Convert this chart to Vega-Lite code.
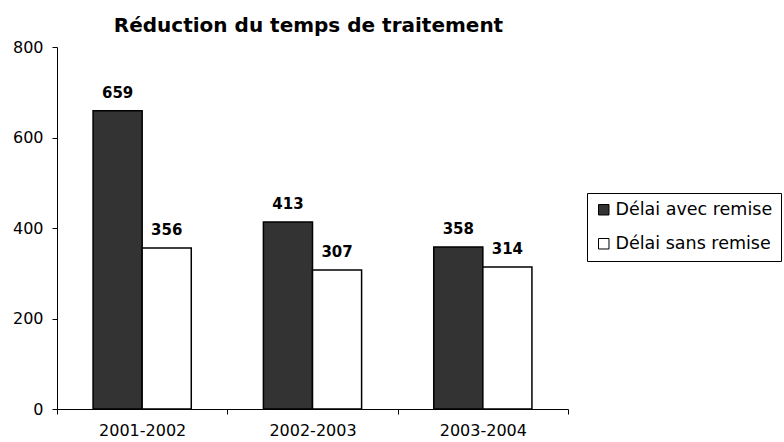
{
  "$schema": "https://vega.github.io/schema/vega-lite/v6.json",
  "width": 511,
  "height": 362,
  "autosize": {"type": "none"},
  "padding": {"left": 57, "top": 47, "right": 216, "bottom": 33},
  "background": "white",
  "config": {
    "view": {"stroke": null},
    "font": "DejaVu Sans"
  },
  "title": {
    "text": "Réduction du temps de traitement",
    "fontSize": 20,
    "fontWeight": "bold",
    "font": "DejaVu Sans",
    "color": "black",
    "anchor": "middle",
    "dx": -4,
    "offset": 3
  },
  "data": {
    "values": [
      {"periode": "2001-2002", "serie": "Délai avec remise", "valeur": 659},
      {"periode": "2001-2002", "serie": "Délai sans remise", "valeur": 356},
      {"periode": "2002-2003", "serie": "Délai avec remise", "valeur": 413},
      {"periode": "2002-2003", "serie": "Délai sans remise", "valeur": 307},
      {"periode": "2003-2004", "serie": "Délai avec remise", "valeur": 358},
      {"periode": "2003-2004", "serie": "Délai sans remise", "valeur": 314}
    ]
  },
  "encoding": {
    "x": {
      "field": "periode",
      "type": "nominal",
      "title": null,
      "scale": {"paddingInner": 0, "paddingOuter": 0},
      "axis": {
        "labelAngle": 0,
        "labelFont": "DejaVu Sans",
        "labelFontSize": 16,
        "labelColor": "black",
        "labelPadding": 8,
        "domainColor": "black",
        "tickColor": "black",
        "tickSize": 5,
        "tickBand": "extent"
      }
    },
    "y": {
      "field": "valeur",
      "type": "quantitative",
      "title": null,
      "scale": {"domain": [0, 800]},
      "axis": {
        "values": [0, 200, 400, 600, 800],
        "grid": false,
        "labelFont": "DejaVu Sans",
        "labelFontSize": 16,
        "labelColor": "black",
        "labelPadding": 9,
        "domainColor": "black",
        "tickColor": "black",
        "tickSize": 5
      }
    },
    "xOffset": {
      "field": "serie",
      "type": "nominal",
      "scale": {"paddingInner": 0, "paddingOuter": 0.7347}
    }
  },
  "layer": [
    {
      "mark": {"type": "bar", "stroke": "black", "strokeWidth": 1.5},
      "encoding": {
        "color": {
          "field": "serie",
          "type": "nominal",
          "scale": {
            "domain": ["Délai avec remise", "Délai sans remise"],
            "range": ["#333333", "#ffffff"]
          },
          "legend": {
            "title": null,
            "orient": "none",
            "legendX": 530,
            "legendY": 146,
            "padding": 8,
            "strokeColor": "black",
            "fillColor": "white",
            "labelFont": "DejaVu Sans",
            "labelFontSize": 17.5,
            "labelColor": "black",
            "labelLimit": 300,
            "symbolType": "square",
            "symbolSize": 110,
            "symbolStrokeColor": "black",
            "symbolStrokeWidth": 1,
            "rowPadding": 15,
            "labelOffset": 3
          }
        }
      }
    },
    {
      "mark": {"type": "text", "font": "DejaVu Sans", "fontWeight": "bold", "fontSize": 15, "dy": -13, "baseline": "alphabetic", "color": "black"},
      "encoding": {
        "text": {"field": "valeur", "type": "quantitative"}
      }
    }
  ]
}
